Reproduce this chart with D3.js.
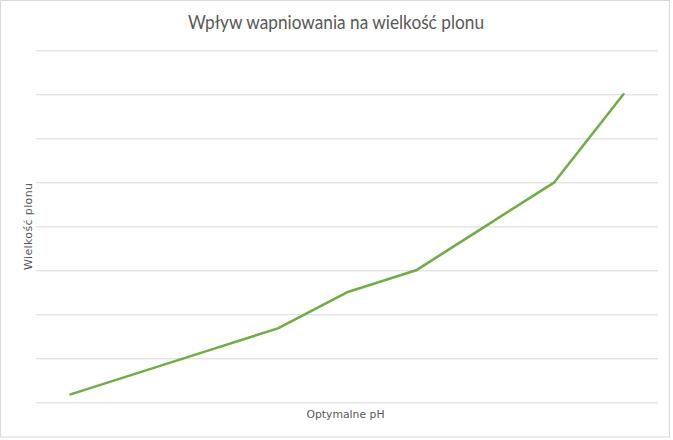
<!DOCTYPE html>
<html>
<head>
<meta charset="utf-8">
<script src="https://cdn.jsdelivr.net/npm/d3@7/dist/d3.min.js"></script>
<style>
  html, body { margin: 0; padding: 0; background: #fff; }
  svg { display: block; }
</style>
</head>
<body>
<svg id="chart" width="673" height="440"></svg>
<script>
// Data (values in gridline units)
const categories = ["1", "2", "3", "4", "5", "6", "7", "8", "9"];
const yieldValues = [0.18, 0.68, 1.18, 1.68, 2.5, 3.0, 4.0, 5.0, 7.0];
const yTicks = [0, 1, 2, 3, 4, 5, 6, 7, 8];
const titleText = "Wpływ wapniowania na wielkość plonu";
const xLabel = "Optymalne pH";
const yLabel = "Wielkość plonu";

const W = 673, H = 440;
const margin = { left: 36, right: 15, top: 50.3, bottom: 37.7 };
const svg = d3.select("#chart");

// border
svg.append("rect")
  .attr("x", 0.5).attr("y", 0.5)
  .attr("width", 669).attr("height", 436.5)
  .attr("fill", "#fff").attr("stroke", "#d9d9d9").attr("stroke-width", 1);

const x = d3.scaleBand().domain(categories)
  .range([margin.left, W - margin.right]);
const y = d3.scaleLinear().domain([0, 8])
  .range([H - margin.bottom, margin.top]);

// gridlines via axis
const yAxis = d3.axisLeft(y).tickValues(yTicks)
  .tickSize(-(W - margin.left - margin.right)).tickFormat("");
const gy = svg.append("g")
  .attr("transform", `translate(${margin.left},0)`)
  .call(yAxis);
gy.select(".domain").remove();
gy.selectAll(".tick line").attr("stroke", "#d9d9d9").attr("stroke-width", 1);

// line
const line = d3.line()
  .x((d, i) => x(categories[i]) + x.bandwidth() / 2)
  .y(d => y(d));
svg.append("path")
  .datum(yieldValues)
  .attr("d", line)
  .attr("fill", "none")
  .attr("stroke", "#70ad47")
  .attr("stroke-width", 2.6)
  .attr("stroke-linejoin", "round")
  .attr("stroke-linecap", "round");

// title
svg.append("text")
  .attr("x", 336).attr("y", 29)
  .attr("text-anchor", "middle")
  .attr("font-family", "Lato, 'Open Sans', sans-serif")
  .attr("font-size", 18.5)
  .attr("fill", "#595959")
  .attr("textLength", 296)
  .attr("lengthAdjust", "spacingAndGlyphs")
  .text(titleText);

// x label
svg.append("text")
  .attr("x", 345.5).attr("y", 417.5)
  .attr("text-anchor", "middle")
  .attr("font-family", "'DejaVu Sans', Verdana, sans-serif")
  .attr("font-size", 11)
  .attr("fill", "#595959")
  .attr("textLength", 78)
  .attr("lengthAdjust", "spacingAndGlyphs")
  .text(xLabel);

// y label
svg.append("text")
  .attr("transform", "translate(32,226.5) rotate(-90)")
  .attr("text-anchor", "middle")
  .attr("font-family", "'DejaVu Sans', Verdana, sans-serif")
  .attr("font-size", 11)
  .attr("fill", "#595959")
  .attr("textLength", 87)
  .attr("lengthAdjust", "spacing")
  .text(yLabel);
</script>
</body>
</html>
